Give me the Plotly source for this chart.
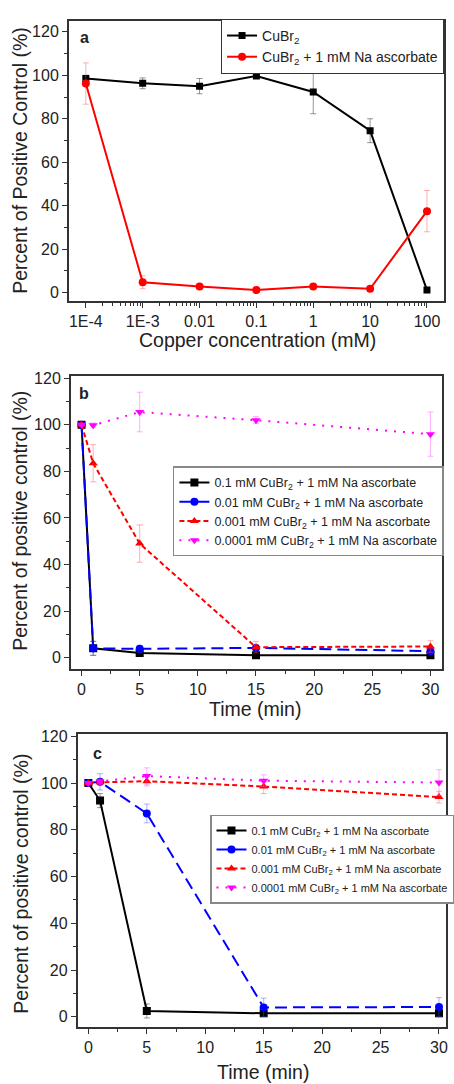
import plotly.graph_objects as go

# ---------------- Panel a data ----------------
conc = [1e-4, 1e-3, 0.01, 0.1, 1, 10, 100]
conc_labels = ["1E-4", "1E-3", "0.01", "0.1", "1", "10", "100"]
a_cubr2 = [98.5, 96.3, 95.0, 99.7, 92.3, 74.5, 1.2]
a_cubr2_err = [1.5, 2.5, 3.5, 0.8, 10.0, 5.5, 0.8]
a_asc = [96.2, 4.8, 2.8, 1.2, 2.8, 1.8, 37.5]
a_asc_err = [9.5, 3.0, 1.0, 0.8, 1.0, 0.8, 9.5]

# ---------------- Panel b data ----------------
time = [0, 1, 5, 15, 30]
b_01 = [100, 4.0, 2.0, 1.0, 1.0]
b_01_err = [0, 3.0, 1.0, 0.8, 0.8]
b_001 = [100, 4.0, 3.8, 4.2, 2.8]
b_001_err = [0, 3.0, 1.5, 1.0, 1.0]
b_0001 = [100, 83.5, 49.0, 4.5, 4.8]
b_0001_err = [0, 8.0, 8.0, 2.5, 2.5]
b_00001 = [100, 99.8, 105.5, 102.0, 96.0]
b_00001_err = [0, 1.0, 8.5, 1.5, 9.5]

# ---------------- Panel c data ----------------
c_01 = [100, 92.5, 2.5, 1.5, 1.5]
c_01_err = [0, 3.0, 3.0, 1.0, 1.5]
c_001 = [100, 100.5, 87.0, 4.0, 4.2]
c_001_err = [0, 3.5, 4.0, 4.0, 4.0]
c_0001 = [100, 100.3, 100.8, 98.5, 94.0]
c_0001_err = [0, 1.0, 2.0, 3.0, 2.5]
c_00001 = [100, 100.7, 103.0, 101.0, 100.2]
c_00001_err = [0, 1.0, 3.5, 2.5, 5.5]

series_names = [
    "0.1 mM CuBr<sub>2</sub> + 1 mM Na ascorbate",
    "0.01 mM CuBr<sub>2</sub> + 1 mM Na ascorbate",
    "0.001 mM CuBr<sub>2</sub> + 1 mM Na ascorbate",
    "0.0001 mM CuBr<sub>2</sub> + 1 mM Na ascorbate",
]

W, H = 454, 1084
FONT = "Liberation Sans, Arial, sans-serif"

def px_x(v):
    return v / W

def px_y(v):
    return 1 - v / H

fig = go.Figure()

# Panel a traces
fig.add_trace(go.Scatter(
    x=conc, y=a_cubr2, mode="lines+markers", name="CuBr<sub>2</sub>",
    line=dict(color="black", width=2), marker=dict(symbol="square", size=7, color="black"),
    error_y=dict(type="data", array=a_cubr2_err, color="rgba(80,80,80,0.6)", thickness=1, width=3),
    xaxis="x", yaxis="y", legend="legend"))
fig.add_trace(go.Scatter(
    x=conc, y=a_asc, mode="lines+markers", name="CuBr<sub>2</sub> + 1 mM Na ascorbate",
    line=dict(color="#ff0000", width=2), marker=dict(symbol="circle", size=8, color="#ff0000"),
    error_y=dict(type="data", array=a_asc_err, color="rgba(255,80,80,0.45)", thickness=1, width=3),
    xaxis="x", yaxis="y", legend="legend"))

styles = [
    dict(color="black", dash="solid", symbol="square", ecol="rgba(80,80,80,0.6)"),
    dict(color="#0000ff", dash="12px,6px", symbol="circle", ecol="rgba(80,80,255,0.45)"),
    dict(color="#ff0000", dash="5px,3px", symbol="triangle-up", ecol="rgba(255,80,80,0.45)"),
    dict(color="#ff00ff", dash="2px,7px", symbol="triangle-down", ecol="rgba(255,80,255,0.45)"),
]

b_vals = [(b_01, b_01_err), (b_001, b_001_err), (b_0001, b_0001_err), (b_00001, b_00001_err)]
c_vals = [(c_01, c_01_err), (c_001, c_001_err), (c_0001, c_0001_err), (c_00001, c_00001_err)]

for (vals, errs), st, nm in zip(b_vals, styles, series_names):
    fig.add_trace(go.Scatter(
        x=time, y=vals, mode="lines+markers", name=nm,
        line=dict(color=st["color"], width=2, dash=st["dash"]),
        marker=dict(symbol=st["symbol"], size=8, color=st["color"]),
        error_y=dict(type="data", array=errs, color=st["ecol"], thickness=1, width=3),
        xaxis="x2", yaxis="y2", legend="legend2"))

for (vals, errs), st, nm in zip(c_vals, styles, series_names):
    fig.add_trace(go.Scatter(
        x=time, y=vals, mode="lines+markers", name=nm,
        line=dict(color=st["color"], width=2, dash=st["dash"]),
        marker=dict(symbol=st["symbol"], size=8, color=st["color"]),
        error_y=dict(type="data", array=errs, color=st["ecol"], thickness=1, width=3),
        xaxis="x3", yaxis="y3", legend="legend3"))

axis_common = dict(
    showline=True, linecolor="#333", linewidth=1.5, mirror=True,
    ticks="outside", ticklen=5, tickwidth=1, tickcolor="#333",
    showgrid=False, zeroline=False,
    tickfont=dict(family=FONT, size=16, color="#222"),
)

minor_log = []
for d in range(-4, 2):
    for m in range(2, 10):
        minor_log.append(m * 10 ** d)

fig.update_layout(
    width=W, height=H, margin=dict(l=0, r=0, t=0, b=0),
    paper_bgcolor="white", plot_bgcolor="white",
    font=dict(family=FONT, color="#222"),
    xaxis=dict(axis_common, type="log", range=[-4.3, 2.3],
               domain=[px_x(70), px_x(452)], anchor="y",
               tickmode="array", tickvals=conc, ticktext=conc_labels,
               minor=dict(tickmode="array", tickvals=minor_log, ticks="outside", ticklen=3, tickcolor="#333")),
    yaxis=dict(axis_common, range=[-4, 125], domain=[px_y(297), px_y(15)], anchor="x",
               tickmode="linear", tick0=0, dtick=20,
               minor=dict(dtick=10, ticks="outside", ticklen=3, tickcolor="#333")),
    xaxis2=dict(axis_common, range=[-0.93, 31], domain=[px_x(72), px_x(450)], anchor="y2",
                tickmode="linear", tick0=0, dtick=5,
                minor=dict(dtick=2.5, ticks="outside", ticklen=3, tickcolor="#333")),
    yaxis2=dict(axis_common, range=[-5, 121], domain=[px_y(667), px_y(372)], anchor="x2",
                tickmode="linear", tick0=0, dtick=20,
                minor=dict(dtick=10, ticks="outside", ticklen=3, tickcolor="#333")),
    xaxis3=dict(axis_common, range=[-0.92, 30.6], domain=[px_x(79), 1.0], anchor="y3",
                tickmode="linear", tick0=0, dtick=5,
                minor=dict(dtick=2.5, ticks="outside", ticklen=3, tickcolor="#333")),
    yaxis3=dict(axis_common, range=[-4.5, 121], domain=[px_y(1027), px_y(732)], anchor="x3",
                tickmode="linear", tick0=0, dtick=20,
                minor=dict(dtick=10, ticks="outside", ticklen=3, tickcolor="#333")),
    legend=dict(x=px_x(225), y=px_y(13), xanchor="left", yanchor="top",
                bgcolor="white", bordercolor="#333", borderwidth=1,
                font=dict(family=FONT, size=14, color="#222"), tracegroupgap=0),
    legend2=dict(x=px_x(176), y=px_y(463), xanchor="left", yanchor="top",
                 bgcolor="white", bordercolor="#888", borderwidth=1.5,
                 font=dict(family=FONT, size=12.5, color="#222")),
    legend3=dict(x=px_x(214), y=px_y(813), xanchor="left", yanchor="top",
                 bgcolor="white", bordercolor="#888", borderwidth=1.5,
                 font=dict(family=FONT, size=11, color="#222")),
    showlegend=True,
)

annos = [
    dict(text="<b>a</b>", x=px_x(86), y=px_y(32), size=16),
    dict(text="<b>b</b>", x=px_x(86), y=px_y(390), size=16),
    dict(text="<b>c</b>", x=px_x(99), y=px_y(752), size=16),
    dict(text="Copper concentration (mM)", x=px_x(262), y=px_y(336), size=19.5),
    dict(text="Time (min)", x=px_x(260), y=px_y(707), size=19.5),
    dict(text="Time (min)", x=px_x(268), y=px_y(1072), size=19.5),
]
for a in annos:
    fig.add_annotation(text=a["text"], x=a["x"], y=a["y"], xref="paper", yref="paper",
                       showarrow=False, xanchor="center", yanchor="middle",
                       font=dict(family=FONT, size=a["size"], color="#222"))

ytitles = [
    ("Percent of Positive Control (%)", 20, 155),
    ("Percent of positive control (%)", 20, 518),
    ("Percent of positive control (%)", 22, 883),
]
for t, xx, yy in ytitles:
    fig.add_annotation(text=t, x=px_x(xx), y=px_y(yy), xref="paper", yref="paper",
                       showarrow=False, textangle=-90, xanchor="center", yanchor="middle",
                       font=dict(family=FONT, size=19.5, color="#222"))

fig.write_html("out.html", config={"displayModeBar": False},
               post_script="document.body.style.margin='0px';")
